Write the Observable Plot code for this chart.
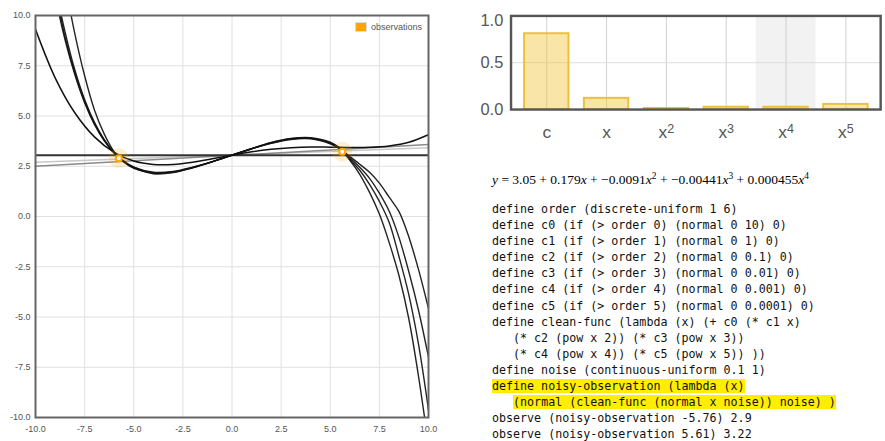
<!DOCTYPE html>
<html>
<head>
<meta charset="utf-8">
<script src="https://cdn.jsdelivr.net/npm/d3@7"></script>
<script src="https://cdn.jsdelivr.net/npm/@observablehq/plot@0.6"></script>
<style>
  html, body { margin: 0; padding: 0; background: #fff; }
  body { width: 885px; height: 441px; overflow: hidden; position: relative; }
  #left { position: absolute; left: 0; top: 0; }
  #right { position: absolute; left: 470px; top: 0; }
  #legend { position: absolute; left: 355px; top: 22px; font: 9px "Liberation Sans", Arial, sans-serif; color: #555; display: flex; align-items: center; }
  #legend .sw { width: 10px; height: 8px; background: #ffa500; border: 1px solid #ddd; margin-right: 4px; }
  #formula { position: absolute; left: 492px; top: 173px; font: 13.5px "Liberation Serif", "Times New Roman", serif; line-height: 1; white-space: nowrap; color: #000; }
  #formula i { font-style: italic; }
  #formula sup { font-size: 0.7em; line-height: 0; vertical-align: 0.55em; }
  #code { position: absolute; left: 492px; top: 201px; margin: 0; font: 11.66px "DejaVu Sans Mono", monospace; line-height: 16.1px; color: #111; white-space: pre; }
  #code .hl { background: #ffee00; }
</style>
</head>
<body>
<div id="left"></div>
<div id="legend"><span class="sw"></span><span>observations</span></div>
<div id="right"></div>
<div id="formula"><i>y</i> = 3.05 + 0.179<i>x</i> + −0.0091<i>x</i><sup>2</sup> + −0.00441<i>x</i><sup>3</sup> + 0.000455<i>x</i><sup>4</sup></div>
<pre id="code">define order (discrete-uniform 1 6)
define c0 (if (&gt; order 0) (normal 0 10) 0)
define c1 (if (&gt; order 1) (normal 0 1) 0)
define c2 (if (&gt; order 2) (normal 0 0.1) 0)
define c3 (if (&gt; order 3) (normal 0 0.01) 0)
define c4 (if (&gt; order 4) (normal 0 0.001) 0)
define c5 (if (&gt; order 5) (normal 0 0.0001) 0)
define clean-func (lambda (x) (+ c0 (* c1 x)
   (* c2 (pow x 2)) (* c3 (pow x 3))
   (* c4 (pow x 4)) (* c5 (pow x 5)) ))
define noise (continuous-uniform 0.1 1)
<span class="hl">define noisy-observation (lambda (x)</span>
   <span class="hl">(normal (clean-func (normal x noise)) noise) )</span>
observe (noisy-observation -5.76) 2.9
observe (noisy-observation 5.61) 3.22</pre>
<script>
// ---------- left chart data ----------
const xTicks = [-10, -7.5, -5, -2.5, 0, 2.5, 5, 7.5, 10];
const yTicks = [-10, -7.5, -5, -2.5, 0, 2.5, 5, 7.5, 10];

// sampled x positions of the posterior curves
const xSamples = [-10, -9.5, -9, -8.5, -8, -7.5, -7, -6.5, -6, -5.5, -5, -4, -3, -2, -1, 0, 1, 2, 3, 4, 5, 5.5, 6, 6.5, 7, 7.5, 8, 8.5, 9, 9.5, 10];
const curveA = [17.1, 13.75, 11.0, 8.8, 7.06, 5.66, 4.58, 3.76, 3.16, 2.73, 2.45, 2.2, 2.24, 2.45, 2.73, 3.05, 3.37, 3.65, 3.85, 3.89, 3.64, 3.35, 2.8, 2.1, 1.2, 0.12, -1.3, -2.95, -5.1, -8.0, -11.4];
const curveB = [17.5, 14.1, 11.3, 8.95, 7.15, 5.72, 4.62, 3.79, 3.17, 2.74, 2.45, 2.16, 2.2, 2.43, 2.72, 3.05, 3.38, 3.67, 3.87, 3.9, 3.66, 3.36, 2.85, 2.3, 1.6, 0.75, -0.3, -2.0, -3.9, -6.4, -9.63];
const curveC = [17.8, 14.4, 11.5, 9.2, 7.3, 5.82, 4.68, 3.82, 3.18, 2.73, 2.43, 2.13, 2.18, 2.42, 2.72, 3.05, 3.38, 3.68, 3.88, 3.92, 3.7, 3.4, 2.92, 2.45, 1.9, 1.16, 0.26, -1.05, -2.75, -4.7, -7.0];
const curveD = [22, 17.5, 14.2, 11.6, 9.1, 7.0, 5.3, 4.1, 3.22, 2.7, 2.4, 2.18, 2.22, 2.44, 2.73, 3.05, 3.36, 3.64, 3.83, 3.86, 3.62, 3.38, 2.98, 2.6, 2.2, 1.66, 0.96, 0.24, -1.02, -2.67, -4.58];

// mean quartic fit (shown as formula)
const quartX = [-10, -9, -8, -7, -6, -5, -4, -3, -2, -1, 0, 1, 2, 3, 4, 5, 6, 7, 8, 9, 10];
const quartY = [9.31, 6.90, 5.16, 3.96, 3.19, 2.76, 2.59, 2.59, 2.70, 2.87, 3.05, 3.22, 3.34, 3.42, 3.46, 3.45, 3.43, 3.44, 3.51, 3.69, 4.07];

// linear samples
const lineX = [-10, 10];
const lineAY = [2.50, 3.58];
const lineBY = [2.70, 3.42];
// constant samples
const constY = [3.05];

// observations
const obsX = [-5.76, 5.61];
const obsY = [2.9, 3.22];

// ---------- right chart data ----------
const categories = ["c", "x", "x^2", "x^3", "x^4", "x^5"];
const probs = [0.81, 0.12, 0.012, 0.025, 0.025, 0.055];
const highlighted = ["x^4"];
const barTicks = [0, 0.5, 1];

// ---------- build tables ----------
const curves = [curveA, curveB, curveC, curveD];
const curveData = curves.flatMap((c, k) => xSamples.map((x, i) => ({x, y: c[i], k})));
const quartData = quartX.map((x, i) => ({x, y: quartY[i]}));
const lineA = lineX.map((x, i) => ({x, y: lineAY[i]}));
const lineB = lineX.map((x, i) => ({x, y: lineBY[i]}));
const obs = obsX.map((x, i) => ({x, y: obsY[i]}));
const bars = categories.map((c, i) => ({cat: c, p: probs[i]}));

const fmt1 = d => d.toFixed(1);

const left = Plot.plot({
  width: 440, height: 441,
  marginLeft: 35, marginRight: 12, marginTop: 15, marginBottom: 24,
  x: {domain: [-10, 10]},
  y: {domain: [-10, 10]},
  style: {fontFamily: "'Liberation Sans', Arial, sans-serif", fontSize: "9px", color: "#555", background: "#fff"},
  marks: [
    Plot.gridX(xTicks, {stroke: "#e0e0e0", strokeOpacity: 1}),
    Plot.gridY(yTicks, {stroke: "#e0e0e0", strokeOpacity: 1}),
    Plot.axisX(xTicks, {tickSize: 0, tickPadding: 8, tickFormat: fmt1, label: null}),
    Plot.axisY(yTicks, {tickSize: 0, tickPadding: 5, tickFormat: fmt1, label: null}),
    Plot.line(lineB, {x: "x", y: "y", stroke: "#c8c8c8", strokeWidth: 1.5}),
    Plot.line(lineA, {x: "x", y: "y", stroke: "#8a8a8a", strokeWidth: 1.5}),
    Plot.ruleY(constY, {stroke: "#333", strokeWidth: 2}),
    Plot.line(quartData, {x: "x", y: "y", stroke: "#111", strokeWidth: 1.5, curve: "catmull-rom", clip: true}),
    Plot.line(curveData, {x: "x", y: "y", z: "k", stroke: "#111", strokeWidth: 1.4, strokeOpacity: 0.92, curve: "catmull-rom", clip: true}),
    Plot.frame({stroke: "#666", strokeWidth: 2}),
    Plot.dot(obs, {x: "x", y: "y", r: 10, fill: "#ffa500", fillOpacity: 0.18, stroke: null}),
    Plot.dot(obs, {x: "x", y: "y", r: 3, fill: "#fff", stroke: "#ffa500", strokeWidth: 2})
  ]
});
document.getElementById("left").appendChild(left);

const right = Plot.plot({
  width: 430, height: 145,
  marginLeft: 42, marginRight: 5, marginTop: 16, marginBottom: 32,
  x: {domain: categories, paddingInner: 0, paddingOuter: 0.06},
  y: {domain: [0, 1]},
  style: {fontFamily: "'Liberation Sans', Arial, sans-serif", fontSize: "17px", color: "#555", background: "#fff", overflow: "visible"},
  marks: [
    Plot.cell(highlighted, {x: d => d, fill: "#f2f2f2"}),
    Plot.gridX({stroke: "#cfcfcf", strokeOpacity: 1}),
    Plot.gridY([0.5], {stroke: "#dcdcdc", strokeOpacity: 1}),
    Plot.barY(bars, {x: "cat", y: "p", fill: "#f0c030", fillOpacity: 0.42, stroke: "#ebc03a", strokeWidth: 2, insetLeft: 8, insetRight: 8}),
    Plot.frame({stroke: "#555", strokeWidth: 2.5}),
    Plot.axisX({tickSize: 0, tickPadding: 17, label: null, fontSize: 18}),
    Plot.axisY(barTicks, {tickSize: 0, tickPadding: 8, tickFormat: fmt1, label: null})
  ]
});
document.getElementById("right").appendChild(right);

// render superscripts in the category labels; nudge the top y label down
right.querySelectorAll("text").forEach(t => {
  const s = t.textContent;
  if (s === "1.0") {
    const tr = t.getAttribute("transform") || "";
    t.setAttribute("transform", tr + " translate(0,5)");
  }
  if (s.includes("^")) {
    const [base, exp] = s.split("^");
    t.textContent = "";
    const ns = "http://www.w3.org/2000/svg";
    const a = document.createElementNS(ns, "tspan");
    a.textContent = base;
    const b = document.createElementNS(ns, "tspan");
    b.textContent = exp;
    b.setAttribute("dy", "-0.45em");
    b.setAttribute("font-size", "13");
    t.appendChild(a); t.appendChild(b);
  }
});
</script>
</body>
</html>
